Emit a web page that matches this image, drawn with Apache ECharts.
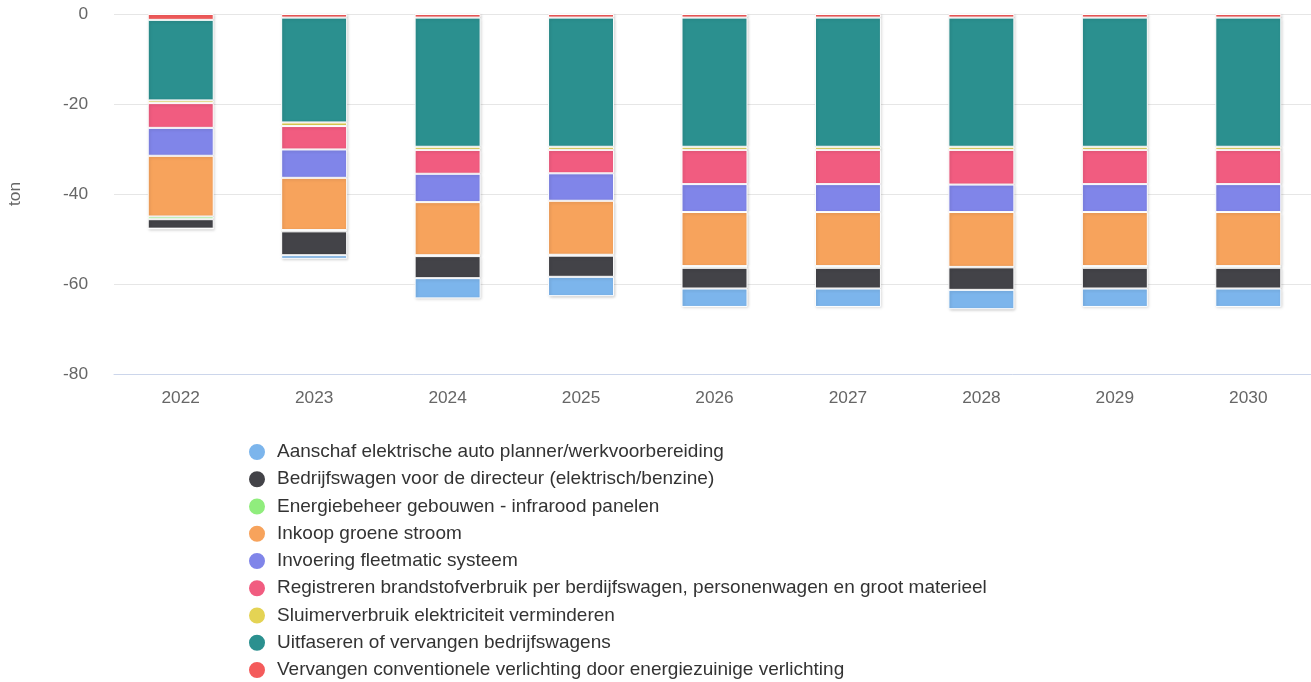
<!DOCTYPE html>
<html>
<head>
<meta charset="utf-8">
<script src="https://cdn.jsdelivr.net/npm/echarts@6/dist/echarts.min.js"></script>
<style>
html,body{margin:0;padding:0;background:#fff;}
#chart{width:1311px;height:682px;}
</style>
</head>
<body>
<div id="chart"></div>
<script>
// Categories (years)
const years = ['2022','2023','2024','2025','2026','2027','2028','2029','2030'];

// Series values (ton reduction, negative)
const aanschaf      = [0, -0.8, -4.5, -4.3, -4.1, -4.1, -4.3, -4.1, -4.1];
const bedrijfswagen = [-2.1, -5.3, -4.9, -4.7, -4.6, -4.6, -5.0, -4.6, -4.6];
const energiebeheer = [-0.6, -0.3, -0.2, -0.2, -0.4, -0.4, -0.1, -0.4, -0.4];
const inkoop        = [-13.5, -11.6, -11.8, -12.0, -12.0, -12.0, -12.2, -12.0, -12.0];
const invoering     = [-6.2, -6.3, -6.3, -6.1, -6.2, -6.2, -6.1, -6.2, -6.2];
const registreren   = [-5.5, -5.2, -5.3, -5.2, -7.6, -7.6, -7.7, -7.6, -7.6];
const sluimer       = [-0.6, -0.8, -0.7, -0.7, -0.7, -0.7, -0.7, -0.7, -0.7];
const uitfaseren    = [-17.9, -23.3, -28.7, -28.7, -28.7, -28.7, -28.7, -28.7, -28.7];
const vervangen     = [-1.3, -0.8, -0.8, -0.8, -0.8, -0.8, -0.8, -0.8, -0.8];

// Y-axis ticks
const yTicks = [-80, -60, -40, -20, 0];

const seriesDefs = [
  {name:'Vervangen conventionele verlichting door energiezuinige verlichting', data: vervangen, color:'#f45b5b'},
  {name:'Uitfaseren of vervangen bedrijfswagens', data: uitfaseren, color:'#2b908f'},
  {name:'Sluimerverbruik elektriciteit verminderen', data: sluimer, color:'#e4d354'},
  {name:'Registreren brandstofverbruik per berdijfswagen, personenwagen en groot materieel', data: registreren, color:'#f15c80'},
  {name:'Invoering fleetmatic systeem', data: invoering, color:'#8085e9'},
  {name:'Inkoop groene stroom', data: inkoop, color:'#f7a35c'},
  {name:'Energiebeheer gebouwen - infrarood panelen', data: energiebeheer, color:'#90ed7d'},
  {name:'Bedrijfswagen voor de directeur (elektrisch/benzine)', data: bedrijfswagen, color:'#434348'},
  {name:'Aanschaf elektrische auto planner/werkvoorbereiding', data: aanschaf, color:'#7cb5ec'}
];

const legendOrder = seriesDefs.map(s => s.name).slice().reverse();

const FONT = '"Liberation Sans", Arial, Helvetica, sans-serif';

const chart = echarts.init(document.getElementById('chart'), null, {renderer:'canvas'});
chart.setOption({
  animation: false,
  textStyle: {fontFamily: FONT},
  grid: {left: 114, right: -4, top: 14, bottom: 308, containLabel: false, outerBoundsMode: 'none'},
  legend: {
    orient: 'vertical',
    left: 247,
    top: 442,
    height: 250,
    padding: 0,
    icon: 'circle',
    itemWidth: 18,
    itemHeight: 18,
    itemGap: 7.25,
    data: legendOrder,
    textStyle: {fontSize: 19, color: '#333333', fontFamily: FONT, padding:[0,0,0,6]}
  },
  xAxis: {
    type: 'category',
    data: years,
    axisLine: {show: true, onZero: false, lineStyle: {color: '#ccd6eb', width: 1}},
    axisTick: {show: false},
    axisLabel: {fontSize: 17.3, color: '#666666', margin: 16, fontFamily: FONT},
    splitLine: {show: false}
  },
  yAxis: {
    type: 'value',
    min: yTicks[0],
    max: yTicks[yTicks.length-1],
    interval: 20,
    name: 'ton',
    nameLocation: 'middle',
    nameRotate: 90,
    nameGap: 90,
    nameTextStyle: {fontSize: 17.3, color: '#666666', fontFamily: FONT},
    axisLine: {show: false},
    axisTick: {show: false},
    axisLabel: {fontSize: 17.3, color: '#666666', margin: 26, fontFamily: FONT},
    splitLine: {lineStyle: {color: '#e6e6e6', width: 1}}
  },
  series: seriesDefs.map(s => ({
    name: s.name,
    type: 'bar',
    stack: 'total',
    data: s.data,
    barWidth: 66,
    itemStyle: {
      color: s.color,
      borderColor: '#ffffff',
      borderWidth: 1,
      shadowColor: 'rgba(0,0,0,0.18)',
      shadowBlur: 3,
      shadowOffsetX: 1,
      shadowOffsetY: 1
    },
    emphasis: {disabled: true}
  }))
});
</script>
</body>
</html>
